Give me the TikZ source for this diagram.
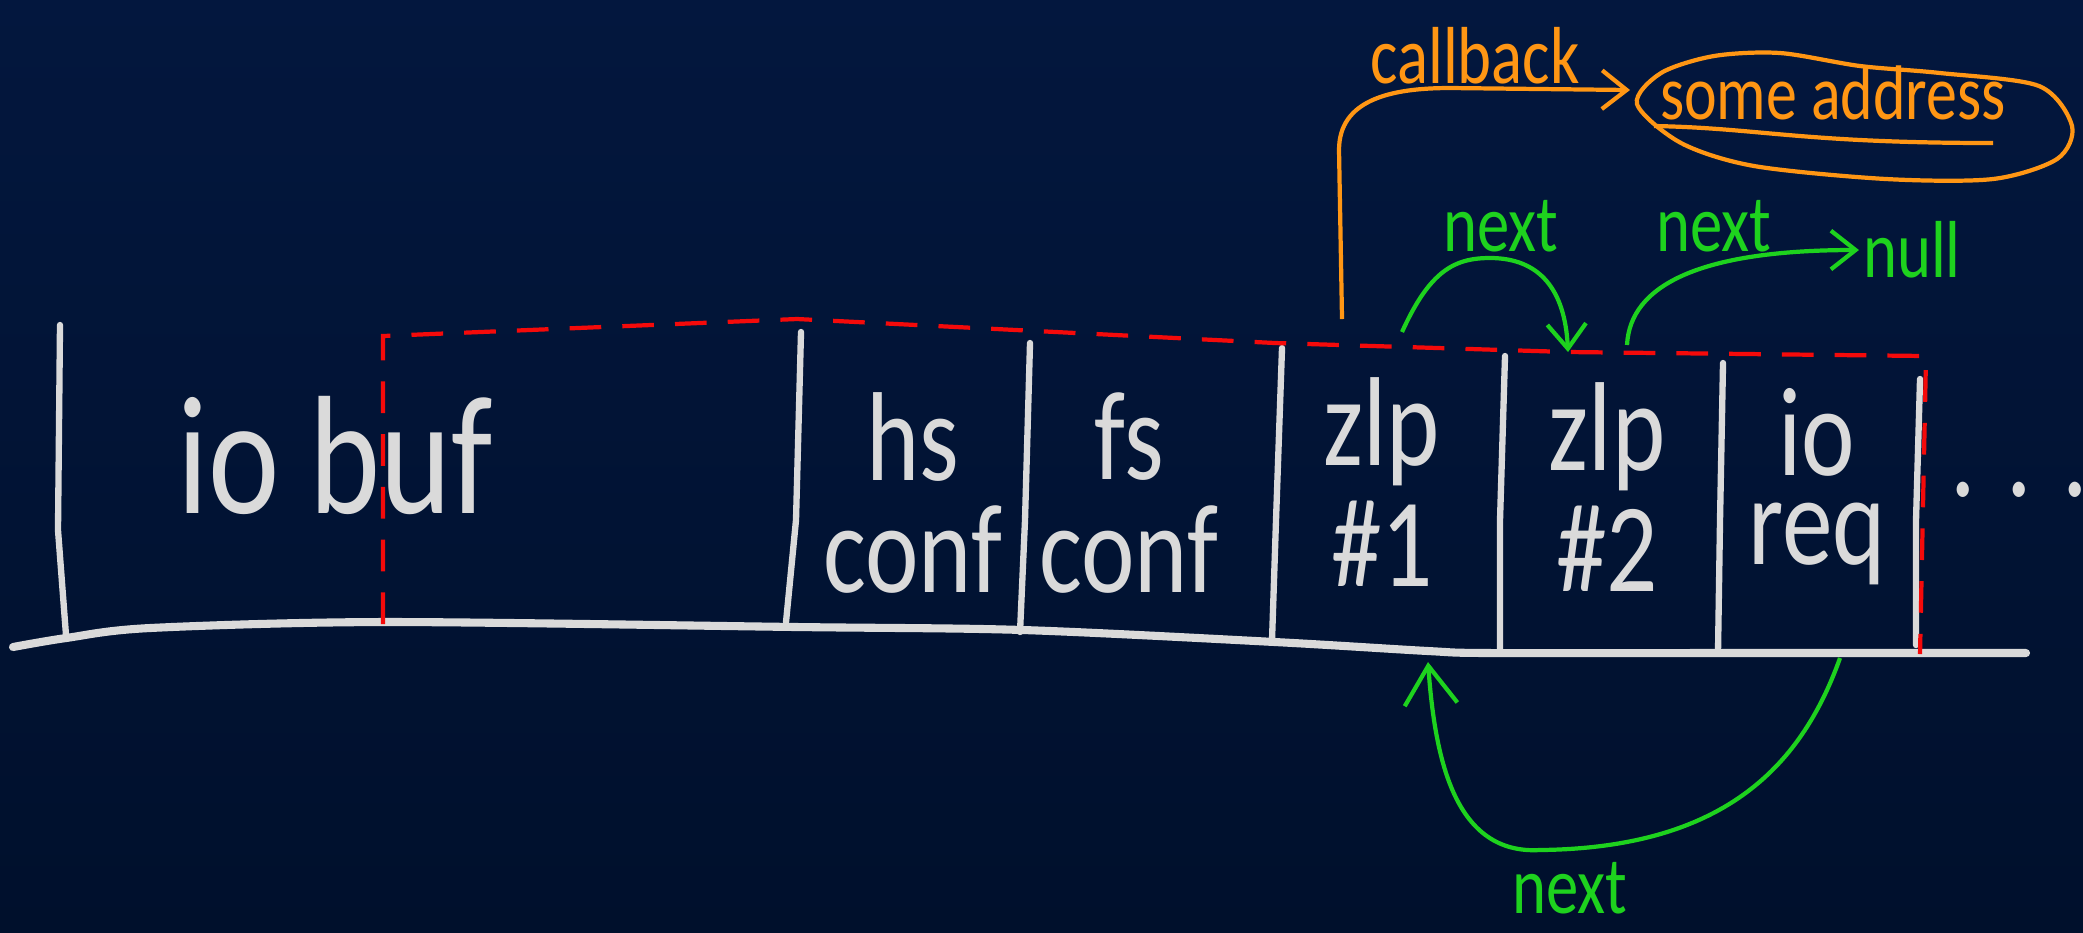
\documentclass[tikz,border=0pt]{standalone}
\usepackage{fontspec}
\setmainfont{Carlito}[FakeStretch=0.8]
\usepackage{tikz}
\usetikzlibrary{arrows.meta,shapes,positioning}
\definecolor{bgtop}{RGB}{3,23,62}
\definecolor{bgbot}{RGB}{0,16,44}
\definecolor{chalk}{RGB}{218,218,218}
\definecolor{ink}{RGB}{255,150,20}
\definecolor{ptr}{RGB}{30,210,30}
\definecolor{cut}{RGB}{245,10,10}

\begin{document}
\begin{tikzpicture}[x=0.01cm, y=-0.01cm, node distance=1.12cm,
    wall/.style={chalk, line width=1.8pt, line cap=round},
    floor/.style={chalk, line width=2.3pt, line cap=round},
    cell/.style={chalk, inner sep=0pt, font=\fontsize{36}{38}\selectfont},
    redline/.style={cut, line width=1.2pt, dash pattern=on 9pt off 6pt},
    cbline/.style={ink, line width=1.2pt, -{Straight Barb[length=7pt,width=11pt]}},
    link/.style={ptr, line width=1.2pt, -{Straight Barb[length=7pt,width=11pt]}},
    tag/.style={inner sep=1pt, font=\fontsize{23}{25}\selectfont}]
  \useasboundingbox (0,0) rectangle (2083,932);
  \fill[top color=bgtop, bottom color=bgbot] (0,0) rectangle (2083,932);

  \draw[floor] plot[smooth] coordinates {(13,647) (66,638) (150,628) (385,622) (797,627)
    (1023,630) (1275,642) (1428,651) (1488,653) (1727,653) (2026,653)};
  \draw[wall] (60,325) -- (58,530) -- (66,635);
  \draw[wall] (801,332) -- (796,520) -- (786,622);
  \draw[wall] (1030,343) -- (1025,520) -- (1020,632);
  \draw[wall] (1282,348) -- (1276,520) -- (1272,640);
  \draw[wall] (1505,356) -- (1500,520) -- (1500,651);
  \draw[wall] (1723,363) -- (1720,520) -- (1718,651);
  \draw[wall] (1920,379) -- (1916,520) -- (1916,645);

  \draw[redline] (383,624) -- (383,336) -- (797,319) -- (1275,343) -- (1568,352)
    -- (1926,356) -- (1920,654);

  \node[cell, font=\fontsize{48}{50}\selectfont] (iobuf) at (335,455) {io buf};
  \node[cell] (hs) at (913,437) {hs};
  \node[cell, below of=hs] (hsconf) {conf};
  \node[cell] (fs) at (1129,437) {fs};
  \node[cell, below of=fs] (fsconf) {conf};
  \node[cell] (zlpa) at (1382,432) {zlp};
  \node[cell, below of=zlpa] (zlpanum) {\#1};
  \node[cell] (zlpb) at (1607,437) {zlp};
  \node[cell, below of=zlpb] (zlpbnum) {\#2};
  \node[cell] (ioreq) at (1817,432) {io};
  \node[cell, below of=ioreq] (ioreqreq) {req};
  \node[cell] (more) at (2019,490) {. . .};

  \node[ink, font=\fontsize{22}{24}\selectfont, inner sep=1pt] (addr) at (1833,93) {some address};
  \draw[ink, line width=1.2pt] plot[smooth cycle] coordinates {(1637,104) (1661,73) (1714,56)
    (1780,53) (1860,66) (1940,73) (2039,86) (2072,126) (2057,159) (1993,179)
    (1886,179) (1754,166) (1681,143)};
  \draw[ink, line width=1.2pt] (1654,126) .. controls (1760,128) and (1800,143) .. (1993,143);
  \coordinate (cbstart) at (1342,319);
  \coordinate (blobin) at (1630,90);
  \draw[cbline] (cbstart) -- (1339,150) .. controls (1339,100) and (1390,88) .. (1450,88) -- (blobin);
  \node[tag, ink] (callback) at (1475,56) {callback};

  \coordinate (zlpatop) at (1402,332);
  \coordinate (zlpbtop) at (1568,352);
  \coordinate (zlpbout) at (1627,345);
  \coordinate (reqbot) at (1840,658);
  \coordinate (zlpabot) at (1428,662);
  \node[tag, ptr] (null) at (1912,250) {null};
  \draw[link] (zlpatop) .. controls (1430,270) and (1455,258) .. (1490,258)
    .. controls (1540,258) and (1565,290) .. (zlpbtop);
  \draw[link] (zlpbout) .. controls (1630,285) and (1700,250) .. (null.west);
  \draw[link, -{Straight Barb[length=11pt,width=15pt]}] (reqbot) .. controls (1800,770) and (1720,848)
    .. (1540,850) .. controls (1455,855) and (1435,760) .. (zlpabot);
  \node[tag, ptr] (nexta) at (1501,226) {next};
  \node[tag, ptr] (nextb) at (1714,226) {next};
  \node[tag, ptr] (nextc) at (1570,888) {next};
\end{tikzpicture}
\end{document}
